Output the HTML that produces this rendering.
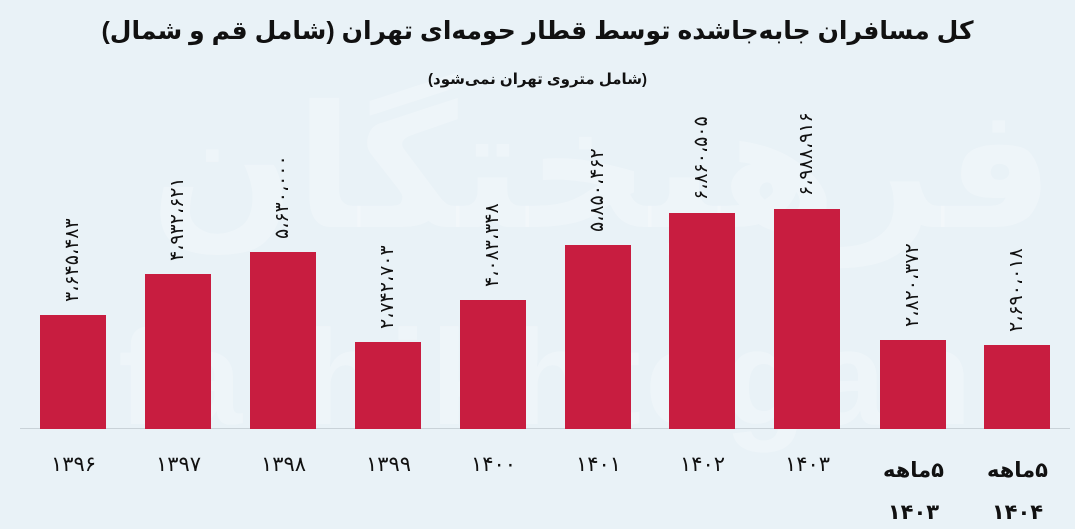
<!DOCTYPE html>
<html style="overflow:hidden;width:1075px;height:529px;"><head><meta charset="utf-8"><style>
body{margin:0;width:1075px;height:529px;overflow:hidden;background:#e9f2f7;position:relative;font-family:"Liberation Sans","Noto Sans CJK SC","DejaVu Sans",sans-serif;}
.t{position:absolute;left:0;width:1075px;text-align:center;direction:rtl;color:#111;font-weight:bold;}
.bar{position:absolute;background:#c81d40;width:66px;}
.v{position:absolute;transform-origin:0 0;transform:rotate(-90deg);white-space:nowrap;font-size:19px;line-height:22px;color:#111;direction:ltr;unicode-bidi:bidi-override;}
.x{position:absolute;width:105px;text-align:center;font-size:21px;color:#111;direction:rtl;}
.wm{position:absolute;color:rgba(255,255,255,0.25);font-weight:bold;white-space:nowrap;}
#wrap{position:absolute;left:0;top:0;width:1075px;height:529px;overflow:hidden;}
</style></head><body><div id="wrap">
<div class="wm" style="left:118px;top:300px;font-size:135px;letter-spacing:4px;">farhikhtegan</div>
<div class="wm" style="left:150px;top:70px;font-size:170px;direction:rtl;">فرهیختگان</div>
<div class="t" style="top:16px;font-size:25px;">کل مسافران جابه‌جاشده توسط قطار حومه‌ای تهران (شامل قم و شمال)</div>
<div class="t" style="top:70px;font-size:15px;">(شامل متروی تهران نمی‌شود)</div>
<div style="position:absolute;left:20px;top:428px;width:1050px;height:1px;background:#c9d2d8;"></div>

<div class="bar" style="left:40px;top:315px;height:114px"></div>
<div class="bar" style="left:145px;top:274px;height:155px"></div>
<div class="bar" style="left:250px;top:252px;height:177px"></div>
<div class="bar" style="left:355px;top:342px;height:87px"></div>
<div class="bar" style="left:460px;top:300px;height:129px"></div>
<div class="bar" style="left:565px;top:245px;height:184px"></div>
<div class="bar" style="left:669px;top:213px;height:216px"></div>
<div class="bar" style="left:774px;top:209px;height:220px"></div>
<div class="bar" style="left:880px;top:340px;height:89px"></div>
<div class="bar" style="left:984px;top:345px;height:84px"></div>

<div class="v" style="left:62px;top:302px">۳،۶۴۵،۴۸۳</div>
<div class="v" style="left:167px;top:261px">۴،۹۳۲،۶۲۱</div>
<div class="v" style="left:272px;top:239px">۵،۶۳۰،۰۰۰</div>
<div class="v" style="left:377px;top:329px">۲،۷۴۲،۷۰۳</div>
<div class="v" style="left:482px;top:287px">۴،۰۸۳،۳۴۸</div>
<div class="v" style="left:587px;top:232px">۵،۸۵۰،۴۶۲</div>
<div class="v" style="left:691px;top:200px">۶،۸۶۰،۵۰۵</div>
<div class="v" style="left:796px;top:196px">۶،۹۸۸،۹۱۶</div>
<div class="v" style="left:902px;top:327px">۲،۸۲۰،۳۷۲</div>
<div class="v" style="left:1006px;top:332px">۲،۶۹۰،۰۱۸</div>

<div class="x" style="left:21px;top:452px">۱۳۹۶</div>
<div class="x" style="left:126px;top:452px">۱۳۹۷</div>
<div class="x" style="left:231px;top:452px">۱۳۹۸</div>
<div class="x" style="left:336px;top:452px">۱۳۹۹</div>
<div class="x" style="left:441px;top:452px">۱۴۰۰</div>
<div class="x" style="left:546px;top:452px">۱۴۰۱</div>
<div class="x" style="left:650px;top:452px">۱۴۰۲</div>
<div class="x" style="left:755px;top:452px">۱۴۰۳</div>
<div class="x" style="left:861px;top:450px;font-weight:bold;line-height:42px">۵ماهه<br>۱۴۰۳</div>
<div class="x" style="left:965px;top:450px;font-weight:bold;line-height:42px">۵ماهه<br>۱۴۰۴</div>
</div></body></html>
